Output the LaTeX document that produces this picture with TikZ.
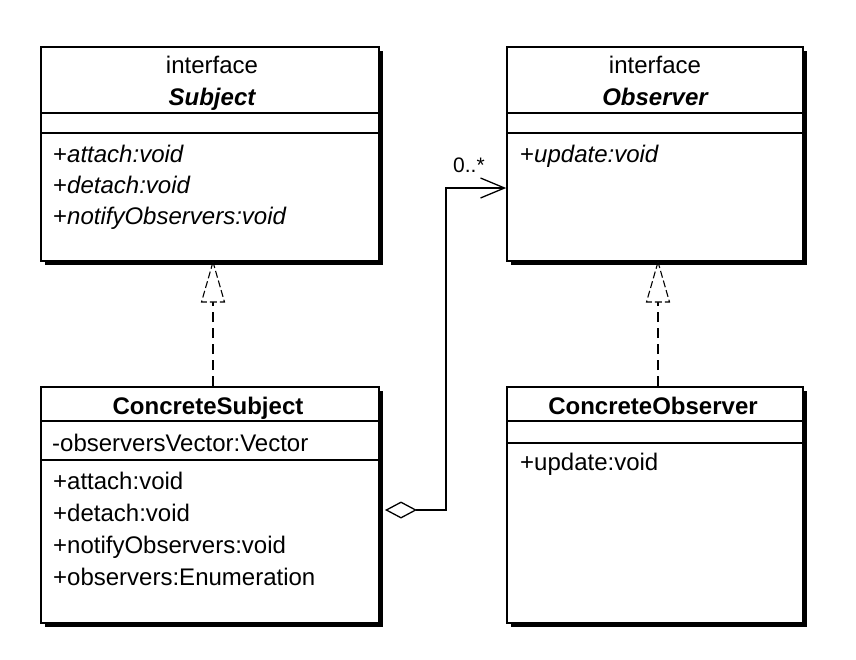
\documentclass[tikz,border=0pt]{standalone}
\usepackage{fontspec}
\setmainfont{Liberation Sans}
\usetikzlibrary{arrows.meta,shadows}
\begin{document}
\begin{tikzpicture}[x=1pt,y=-1pt,
  cls/.style={draw=black,line width=1.6pt,fill=white,inner sep=0pt,
    drop shadow={shadow xshift=4pt,shadow yshift=-4pt,fill=black,opacity=1}},
  divider/.style={line width=1.3pt},
  txt/.style={inner sep=0pt,font=\fontsize{24}{28}\selectfont},
  ltxt/.style={txt,anchor=base west},
  ctxt/.style={txt,anchor=base},
  conn/.style={line width=1.3pt},
  dashconn/.style={line width=1.2pt,dash pattern=on 10pt off 6pt},
  realize/.style={line width=1.1pt,dash pattern=on 7pt off 3pt,fill=white},
]
\useasboundingbox (0,0) rectangle (856,659);

% boxes
\node[cls,minimum width=338pt,minimum height=214pt] (subj) at (210,154) {};
\node[cls,minimum width=296pt,minimum height=214pt] (obs) at (655,154) {};
\node[cls,minimum width=338pt,minimum height=236pt] (csub) at (210,505) {};
\node[cls,minimum width=296pt,minimum height=236pt] (cobs) at (655,505) {};

% dividers
\draw[divider] (subj.west |- 0,113) -- (subj.east |- 0,113);
\draw[divider] (subj.west |- 0,133) -- (subj.east |- 0,133);
\draw[divider] (obs.west |- 0,113) -- (obs.east |- 0,113);
\draw[divider] (obs.west |- 0,133) -- (obs.east |- 0,133);
\draw[divider] (csub.west |- 0,421) -- (csub.east |- 0,421);
\draw[divider] (csub.west |- 0,460) -- (csub.east |- 0,460);
\draw[divider] (cobs.west |- 0,421) -- (cobs.east |- 0,421);
\draw[divider] (cobs.west |- 0,443) -- (cobs.east |- 0,443);

% Subject texts
\node[ctxt] (subjst) at (212,73) {interface};
\node[ctxt] (subjnm) at (212,105) {\bfseries\itshape Subject};
\node[ltxt] (subjm1) at (53,162) {+\itshape attach:void};
\node[ltxt] (subjm2) at (53,193) {+\itshape detach:void};
\node[ltxt] (subjm3) at (53,224) {+\itshape notifyObservers:void};

% Observer texts
\node[ctxt] (obsst) at (655,73) {interface};
\node[ctxt] (obsnm) at (655,105) {\bfseries\itshape Observer};
\node[ltxt] (obsm1) at (520,162) {+\itshape update:void};

% ConcreteSubject texts
\node[ctxt] (csubnm) at (208,414) {\bfseries ConcreteSubject};
\node[ltxt] (csuba1) at (52,451) {-observersVector:Vector};
\node[ltxt] (csubm1) at (53,489) {+attach:void};
\node[ltxt] (csubm2) at (53,521) {+detach:void};
\node[ltxt] (csubm3) at (53,553) {+notifyObservers:void};
\node[ltxt] (csubm4) at (53,585) {+observers:Enumeration};

% ConcreteObserver texts
\node[ctxt] (cobsnm) at (653,414) {\bfseries ConcreteObserver};
\node[ltxt] (cobsm1) at (520,470) {+update:void};

% realization: ConcreteSubject -> Subject
\coordinate (t1tip) at (213,262);
\coordinate (t1base) at (213,302);
\draw[dashconn] (csub.north -| t1base) -- (t1base);
\draw[realize] (t1tip) -- (201.5,302) -- (224.5,302) -- cycle;

% realization: ConcreteObserver -> Observer
\coordinate (t2tip) at (658,262);
\coordinate (t2base) at (658,302);
\draw[dashconn] (cobs.north -| t2base) -- (t2base);
\draw[realize] (t2tip) -- (646.5,302) -- (669.5,302) -- cycle;

% aggregation: ConcreteSubject <>-> Observer
\coordinate (aggS) at (385,510);
\coordinate (aggT) at (obs.west |- 0,188);
\draw[conn,{Diamond[open,length=32pt,width=17pt,line width=1.3pt]}-{Straight Barb[length=24pt,width=20pt,line width=1.3pt]}]
  (aggS) -- (446,510) -- (446,188) -- (aggT);
\node[inner sep=0pt,anchor=base west,font=\fontsize{21}{24}\selectfont] (mult) at (453,172) {0..*};
\end{tikzpicture}
\end{document}
